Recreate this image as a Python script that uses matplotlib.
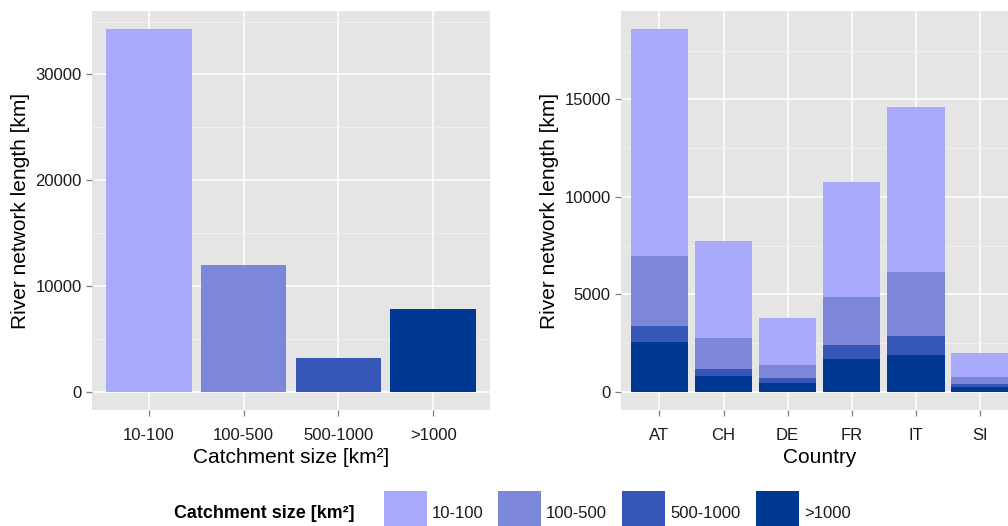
import numpy as np
import matplotlib
matplotlib.use("Agg")
import matplotlib.pyplot as plt
from matplotlib.patches import Rectangle

plt.rcParams['font.family'] = ['Liberation Sans', 'DejaVu Sans']

# catchment size classes and their colours
classes = ['10-100', '100-500', '500-1000', '>1000']
class_colors = ['#A9AAFB', '#7C87D9', '#3656B8', '#013893']

# total river network length per catchment size class [km]
total_length = [34280, 11975, 3185, 7815]

# river network length per country, split by catchment size class [km]
countries = ['AT', 'CH', 'DE', 'FR', 'IT', 'SI']
len_10_100 = [11640, 4975, 2410, 5898, 8462, 1231]
len_100_500 = [3590, 1590, 666, 2461, 3282, 359]
len_500_1000 = [820, 360, 257, 718, 974, 154]
len_gt_1000 = [2550, 805, 446, 1677, 1882, 241]

PANEL = '#E5E5E5'
TEXT = '#1A1A1A'


def style_axes(ax, ymax, major, minor):
    ax.set_facecolor(PANEL)
    for s in ax.spines.values():
        s.set_visible(False)
    ax.set_ylim(-0.05 * ymax, 1.05 * ymax)
    ax.set_yticks(np.arange(0, ymax + 1, major))
    ax.set_yticks(np.arange(minor, ymax * 1.05, major), minor=True)
    ax.grid(True, which='major', color='white', linewidth=1.1)
    ax.grid(True, which='minor', axis='y', color='#F2F2F2', linewidth=0.6)
    ax.set_axisbelow(True)
    ax.tick_params(which='major', length=4.3, width=0.9, color='#7F7F7F',
                   labelsize=12, labelcolor=TEXT)
    ax.tick_params(axis='y', pad=3)
    ax.tick_params(axis='x', pad=8.5)
    ax.tick_params(which='minor', length=0)


fig = plt.figure(figsize=(10.08, 5.26), dpi=100)

# left panel: totals per class
ax1 = fig.add_axes([0.0913, 0.2205, 0.3948, 0.7586])
x1 = np.arange(len(classes))
ax1.bar(x1, total_length, width=0.9, color=class_colors, zorder=3)
ax1.set_xlim(-0.6, len(classes) - 0.4)
ax1.set_xticks(x1)
ax1.set_xticklabels(classes)
style_axes(ax1, 34280, 10000, 5000)
ax1.set_ylim(-1714, 35994)
ax1.set_xlabel('Catchment size [km²]', fontsize=15, color='black', labelpad=4)
ax1.set_ylabel('River network length [km]', fontsize=15, color='black', labelpad=4)

# right panel: stacked by country
ax2 = fig.add_axes([0.6161, 0.2205, 0.394, 0.7586])
x2 = np.arange(len(countries))
bottom = np.zeros(len(countries))
for vals, col in zip([len_gt_1000, len_500_1000, len_100_500, len_10_100],
                     class_colors[::-1]):
    ax2.bar(x2, vals, width=0.9, bottom=bottom, color=col, zorder=3)
    bottom += np.array(vals)
ax2.set_xlim(-0.6, len(countries) - 0.4)
ax2.set_xticks(x2)
ax2.set_xticklabels(countries)
top = bottom.max()
style_axes(ax2, top, 5000, 2500)
ax2.set_ylim(-0.05 * top, 1.05 * top)
ax2.set_xlabel('Country', fontsize=15, color='black', labelpad=4)
ax2.set_ylabel('River network length [km]', fontsize=15, color='black', labelpad=4)

# legend along the bottom
W, H = 1008.0, 526.0
fig.text(354 / W, 1 - 514 / H, 'Catchment size [km²]', fontsize=12.9,
         fontweight='bold', ha='right', va='center', color='black')
key_x = [384, 498, 622, 756]
for kx, col, lab in zip(key_x, class_colors, classes):
    fig.add_artist(Rectangle((kx / W, 0), 43 / W, 35 / H,
                             transform=fig.transFigure, color=col, lw=0))
    fig.text((kx + 48) / W, 1 - 514 / H, lab, fontsize=12, ha='left',
             va='center', color=TEXT)

fig.savefig('out.png', dpi=100)
